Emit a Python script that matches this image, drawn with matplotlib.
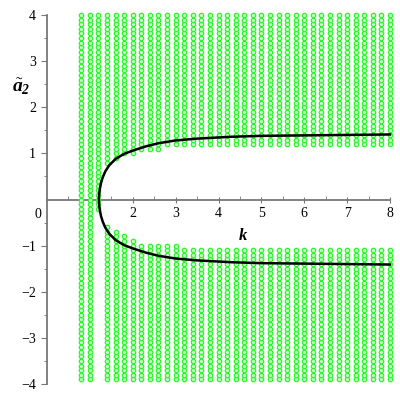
import matplotlib
matplotlib.use('Agg')
import matplotlib.pyplot as plt
import numpy as np

# ---- data ----
k_cols = [0.8, 1.0, 1.2, 1.4, 1.6, 1.8, 2.0, 2.2, 2.4, 2.6, 2.8, 3.0,
          3.2, 3.4, 3.6, 3.8, 4.0, 4.2, 4.4, 4.6, 4.8, 5.0, 5.2, 5.4, 5.6,
          5.8, 6.0, 6.2, 6.4, 6.6, 6.8, 7.0, 7.2, 7.4, 7.6, 7.8, 8.0]
# lowest green point of the upper band in each column
upper_min = [-3.9, -3.9, -0.2, 0.8, 0.9, 1.0, 1.0, 1.1, 1.1, 1.1, 1.2, 1.2,
             1.2, 1.2, 1.2, 1.2, 1.2, 1.2, 1.2, 1.2, 1.2, 1.2, 1.2, 1.2, 1.2,
             1.2, 1.2, 1.2, 1.2, 1.2, 1.2, 1.2, 1.2, 1.2, 1.2, 1.2, 1.2]
# highest green point of the lower band in each column (nan = no lower band)
lower_max = [np.nan, np.nan, np.nan, -0.6, -0.7, -0.8, -0.9, -1.0, -1.0, -1.0, -1.0, -1.0,
             -1.1, -1.1, -1.1, -1.1, -1.1, -1.1, -1.1, -1.1, -1.1, -1.1, -1.1, -1.1, -1.1,
             -1.1, -1.1, -1.1, -1.1, -1.1, -1.1, -1.1, -1.1, -1.1, -1.1, -1.1, -1.1]
a_rows = np.round(np.arange(-3.9, 4.0001, 0.1), 2)

# boundary curve (upper branch; lower branch is its mirror)
curve_k = [1.21, 1.215, 1.23, 1.26, 1.3, 1.36, 1.45, 1.6, 1.8, 2.0, 2.3, 2.6,
           3.0, 3.5, 4.3, 5.0, 6.0, 7.0, 8.0]
curve_a = [0.0, 0.1, 0.22, 0.36, 0.48, 0.61, 0.74, 0.88, 0.99, 1.06, 1.15, 1.22,
           1.28, 1.32, 1.36, 1.38, 1.39, 1.40, 1.41]

x_ticks = [1, 2, 3, 4, 5, 6, 7, 8]
y_ticks = [-4, -3, -2, -1, 1, 2, 3, 4]

# ---- build scatter points ----
px, py = [], []
for k, umin, lmax in zip(k_cols, upper_min, lower_max):
    for a in a_rows:
        if a >= umin - 1e-9 or (not np.isnan(lmax) and a <= lmax + 1e-9):
            px.append(k)
            py.append(a)

plt.rcParams['mathtext.fontset'] = 'custom'
plt.rcParams['mathtext.rm'] = 'Liberation Serif'
plt.rcParams['mathtext.it'] = 'Liberation Serif:italic'
plt.rcParams['mathtext.bf'] = 'Liberation Serif:bold:italic'

fig = plt.figure(figsize=(4, 4), dpi=100)
ax = fig.add_axes([47/400, 16/400, 343/400, 369/400])
ax.set_xlim(0, 8)
ax.set_ylim(-4, 4)

ax.plot(px, py, linestyle='none', marker='o', ms=3.2, mfc='#c8ffc8',
        mec='#2cf52c', mew=0.9, clip_on=False, zorder=2)

ck = np.array(curve_k)
ca = np.array(curve_a)
ax.plot(np.concatenate([ck[::-1], ck]), np.concatenate([ca[::-1], -ca]),
        color='black', lw=1.8, zorder=3, clip_on=False)

for s in ['top', 'right']:
    ax.spines[s].set_visible(False)
ax.spines['left'].set_position(('data', 0))
ax.spines['bottom'].set_position(('data', 0))
for s in ['left', 'bottom']:
    ax.spines[s].set_color('#777777')
    ax.spines[s].set_linewidth(1.3)
    ax.spines[s].set_zorder(1)

ax.set_xticks(x_ticks)
ax.set_yticks(y_ticks)
ax.set_xticks(np.arange(0.5, 8.01, 1.0), minor=True)
ax.set_yticks([-3.5, -2.5, -1.5, -0.5, 0.5, 1.5, 2.5, 3.5], minor=True)
ax.set_xticklabels([str(t) for t in x_ticks], fontfamily='Liberation Serif', fontsize=10)
ax.set_yticklabels([('\u2212' + str(-t)) if t < 0 else str(t) for t in y_ticks],
                   fontfamily='Liberation Serif', fontsize=10)
ax.tick_params(axis='x', which='major', direction='inout', length=5, color='#777777', pad=3)
ax.tick_params(axis='x', which='minor', direction='in', length=3, color='#777777')
ax.tick_params(axis='y', which='major', direction='out', length=4, color='#777777', pad=4)
ax.tick_params(axis='y', which='minor', direction='out', length=2.5, color='#777777')

ax.text(-0.22, -0.32, '0', fontfamily='Liberation Serif', fontsize=10,
        ha='center', va='center')
ax.text(4.57, -0.77, r'$\mathbf{k}$', fontsize=12, ha='center', va='center')
ax.text(-0.6, 2.44, r'$\tilde{\mathbf{a}}_{\mathbf{2}}$', fontsize=14,
        ha='center', va='center')

fig.savefig('out.png', dpi=100)
